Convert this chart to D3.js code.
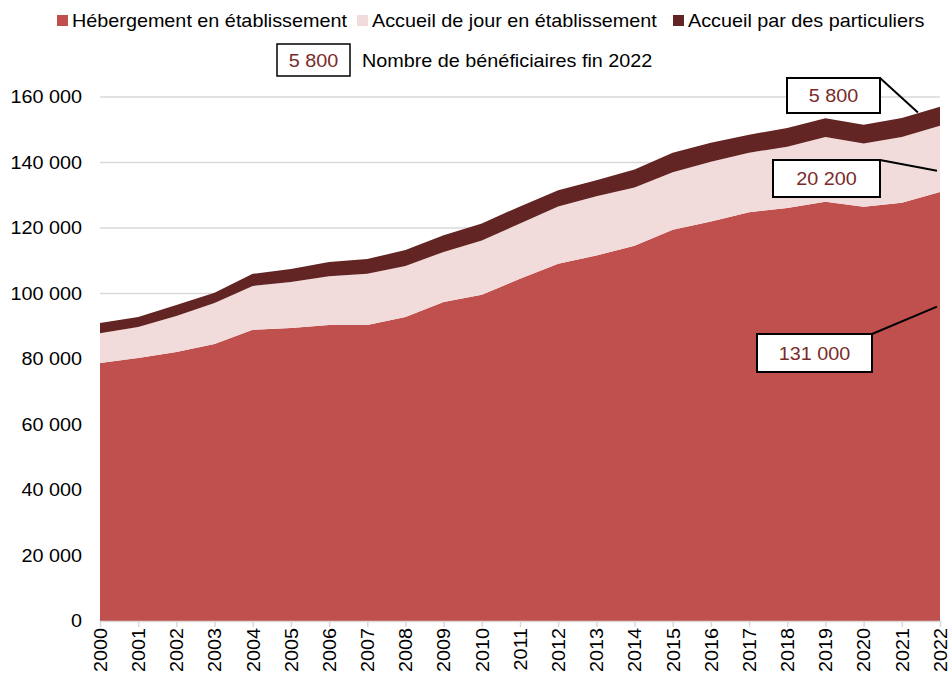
<!DOCTYPE html>
<html lang="fr">
<head>
<meta charset="utf-8">
<script src="https://cdn.jsdelivr.net/npm/d3@7"></script>
<style>
  html, body { margin: 0; padding: 0; background: #fff; }
  svg { display: block; font-family: "Liberation Sans", Arial, sans-serif; }
</style>
</head>
<body>
<svg id="chart" width="948" height="676"></svg>
<script>
// Bénéficiaires par mode d'accueil, 2000-2022
const years = d3.range(2000, 2023);
const hebergement = [78800, 80300, 82100, 84600, 88900, 89500, 90400, 90400, 92800, 97400,
  99600, 104500, 109100, 111600, 114600, 119500, 122000, 124800, 126100, 128000,
  126500, 127700, 131000];
const accueilJour = [9100, 9500, 11000, 12500, 13400, 14000, 14900, 15600, 15600, 15300,
  16600, 16900, 17500, 18100, 17800, 17500, 18200, 18200, 18700, 19800,
  19300, 20100, 20200];
const particuliers = [3100, 3000, 3400, 3100, 3700, 4000, 4300, 4500, 4900, 5100,
  5200, 5200, 4900, 4900, 5500, 6000, 5800, 5500, 5700, 5700,
  5700, 5800, 5800];
const seriesNames = ["Hébergement en établissement", "Accueil de jour en établissement", "Accueil par des particuliers"];
const seriesKeys = ["heb", "jour", "part"];
const colors = ["#c0504d", "#f2dcdb", "#632523"];
const yTicks = [0, 20000, 40000, 60000, 80000, 100000, 120000, 140000, 160000];

const svg = d3.select("#chart");
const margin = { left: 100, right: 8, top: 97, bottom: 55 };
const W = 948, H = 676;
const FS = 18;        // base font size
const STRETCH = 1.1;  // slightly wide lettering

const x = d3.scaleLinear().domain([2000, 2022]).range([margin.left, W - margin.right]);
const y = d3.scaleLinear().domain([0, 160000]).range([H - margin.bottom, margin.top]);

const fmt = v => d3.format(",")(v).replace(/,/g, " ");

// Draws a horizontally widened text at (tx, ty)
function wideText(parent, tx, ty, str, opts = {}) {
  return parent.append("text")
    .attr("transform", `translate(${tx},${ty}) scale(${STRETCH},1)`)
    .attr("text-anchor", opts.anchor || "start")
    .attr("font-size", opts.size || FS)
    .attr("fill", opts.fill || "#000")
    .text(str);
}

// Grid lines
svg.append("g").selectAll("line").data(yTicks.filter(d => d > 0)).join("line")
  .attr("x1", x(2000)).attr("x2", x(2022))
  .attr("y1", d => y(d)).attr("y2", d => y(d))
  .attr("stroke", "#d9d9d9").attr("stroke-width", 1.3);

// Stacked areas
const rows = years.map((yr, i) => ({ year: yr, heb: hebergement[i], jour: accueilJour[i], part: particuliers[i] }));
const stacked = d3.stack().keys(seriesKeys)(rows);
const area = d3.area()
  .x(d => x(d.data.year))
  .y0(d => y(d[0]))
  .y1(d => y(d[1]));
svg.append("g").selectAll("path").data(stacked).join("path")
  .attr("d", area)
  .attr("fill", (d, i) => colors[i]);

// Y axis labels
const yAxis = d3.axisLeft(y).tickValues(yTicks).tickFormat(fmt).tickSize(0).tickPadding(18);
const gy = svg.append("g").attr("transform", `translate(${margin.left},0)`).call(yAxis);
gy.select(".domain").remove();
gy.selectAll("text")
  .attr("font-size", FS).attr("fill", "#000")
  .attr("font-family", "'Liberation Sans', Arial, sans-serif")
  .attr("x", 0)
  .attr("transform", `translate(-18,0) scale(${STRETCH},1)`);

// X axis
const xAxis = d3.axisBottom(x).tickValues(years).tickFormat(d3.format("d")).tickSize(6).tickSizeOuter(0);
const gx = svg.append("g").attr("transform", `translate(0,${y(0)})`).call(xAxis);
gx.select(".domain").attr("stroke", "#d9d9d9").attr("stroke-width", 1.5);
gx.selectAll(".tick line").attr("stroke", "#d9d9d9").attr("stroke-width", 1.5);
gx.selectAll("text")
  .attr("font-size", FS).attr("fill", "#000")
  .attr("font-family", "'Liberation Sans', Arial, sans-serif")
  .attr("text-anchor", "end")
  .attr("dy", "0.35em")
  .attr("x", 0).attr("y", 0)
  .attr("transform", `rotate(-90) translate(-7,0) scale(${STRETCH},1)`);

// Legend
const legendItems = [
  { name: seriesNames[0], color: colors[0], sx: 57 },
  { name: seriesNames[1], color: colors[1], sx: 357 },
  { name: seriesNames[2], color: colors[2], sx: 673 }
];
const lg = svg.append("g");
legendItems.forEach(it => {
  lg.append("rect").attr("x", it.sx).attr("y", 15).attr("width", 11).attr("height", 11).attr("fill", it.color);
  wideText(lg, it.sx + 15, 27, it.name);
});
lg.append("rect").attr("x", 277).attr("y", 44).attr("width", 73).attr("height", 32)
  .attr("fill", "#fff").attr("stroke", "#000").attr("stroke-width", 1.5);
wideText(lg, 313.5, 66.5, fmt(particuliers[particuliers.length - 1]), { anchor: "middle", fill: "#7a2b29" });
wideText(lg, 362, 66.5, "Nombre de bénéficiaires fin 2022");

// Callouts for 2022 values
const last = years.length - 1;
const totalAt = i => hebergement[i] + accueilJour[i] + particuliers[i];
const callouts = [
  { value: particuliers[last], box: [787, 78, 93, 35], anchor: [880, 78], target: [2021.5, (totalAt(last - 1) + totalAt(last)) / 2] },
  { value: accueilJour[last], box: [773, 160, 107, 37], anchor: [880, 160], target: [2022, 137500] },
  { value: hebergement[last], box: [757, 334, 115, 38], anchor: [872, 334], target: [2022, 96000] }
];
const cg = svg.append("g");
callouts.forEach(c => {
  cg.append("line")
    .attr("x1", c.anchor[0]).attr("y1", c.anchor[1])
    .attr("x2", x(c.target[0]) - 3).attr("y2", y(c.target[1]))
    .attr("stroke", "#000").attr("stroke-width", 2);
  cg.append("rect").attr("x", c.box[0]).attr("y", c.box[1]).attr("width", c.box[2]).attr("height", c.box[3])
    .attr("fill", "#fff").attr("stroke", "#000").attr("stroke-width", 2);
  wideText(cg, c.box[0] + c.box[2] / 2, c.box[1] + c.box[3] / 2 + 6.5, fmt(c.value), { anchor: "middle", fill: "#7a2b29" });
});
</script>
</body>
</html>
